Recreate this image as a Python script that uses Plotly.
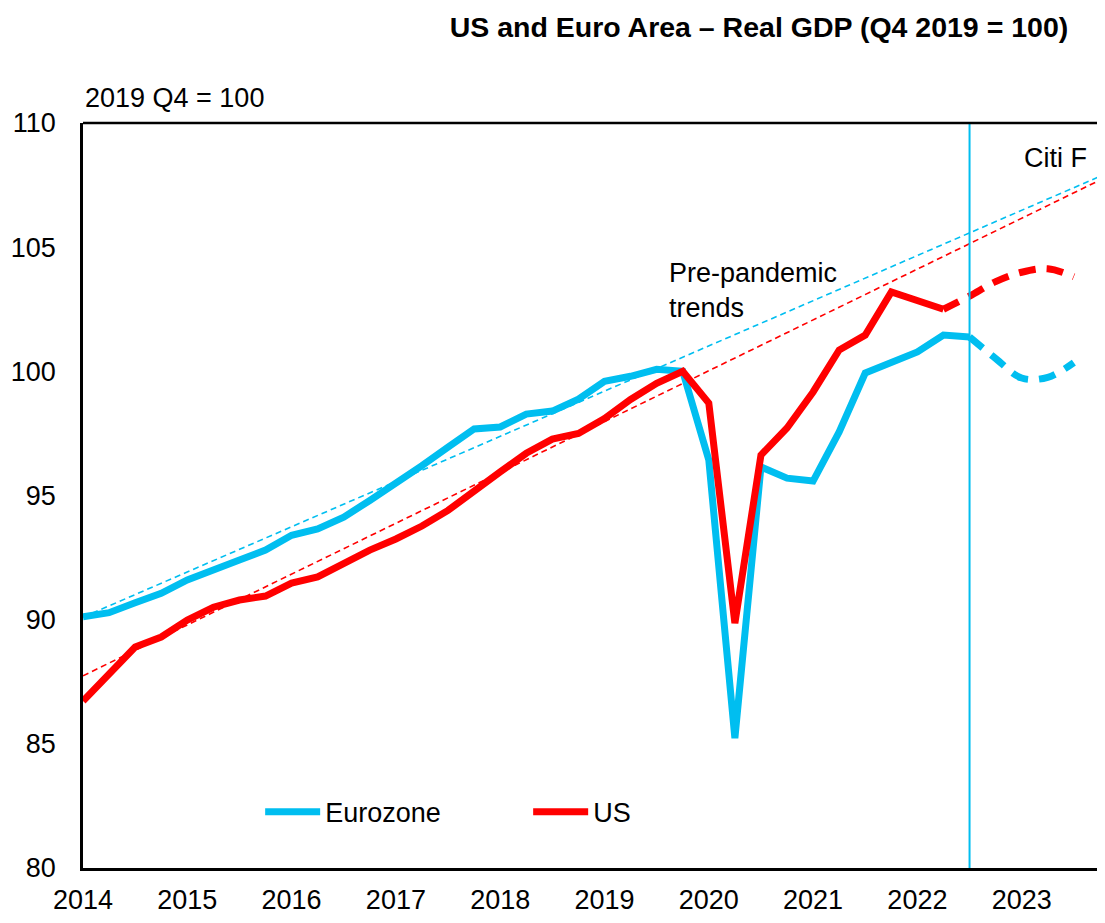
import plotly.graph_objects as go

# ---- data (quarterly, starting 2014 Q1) ----
start_year = 2014
eurozone = [90.12, 90.28, 90.68, 91.06, 91.6, 91.97, 92.4, 92.8,
            93.4, 93.65, 94.13, 94.8, 95.46, 96.2, 96.95, 97.68,
            97.76, 98.28, 98.4, 98.88, 99.6, 99.8, 100.08, 100.0,
            96.43, 85.23, 96.15, 95.7, 95.58, 97.56, 99.93, 100.33,
            100.78, 101.46, 101.38]
us = [86.72, 87.85, 88.9, 89.3, 89.98, 90.5, 90.79, 90.95,
      91.47, 91.72, 92.28, 92.8, 93.25, 93.77, 94.4, 95.2,
      95.95, 96.7, 97.27, 97.5, 98.1, 98.87, 99.52, 100.0,
      98.72, 89.86, 96.63, 97.72, 99.17, 100.86, 101.46, 103.2,
      102.87, 102.5]
# Citi forecasts (start at last actual quarter)
eurozone_fc_start = 34
eurozone_fc = [101.38, 100.52, 99.73, 99.76, 100.35]
us_fc_start = 33
us_fc = [102.5, 103.03, 103.61, 103.99, 104.13, 103.81]
# pre-pandemic trend lines: value at 2014 Q1 and at 2023 Q4
trend_quarters = [0, 39]
eurozone_trend = [90.1, 107.85]
us_trend = [87.74, 107.7]
forecast_line_year = 2022.5
year_ticks = list(range(2014, 2024))

BLUE = "#00BEF0"
RED = "#FF0000"
FONT = "Liberation Sans, Arial, sans-serif"
FS = 27


def qx(i):
    return start_year + i / 4.0


fig = go.Figure()

# trend lines
fig.add_trace(go.Scatter(x=[qx(q) for q in trend_quarters], y=eurozone_trend, mode="lines",
                         line=dict(color=BLUE, width=1.6, dash="6px,4px"), showlegend=False, hoverinfo="skip"))
fig.add_trace(go.Scatter(x=[qx(q) for q in trend_quarters], y=us_trend, mode="lines",
                         line=dict(color=RED, width=1.6, dash="6px,4px"), showlegend=False, hoverinfo="skip"))

# forecasts
fig.add_trace(go.Scatter(x=[qx(eurozone_fc_start + i) for i in range(len(eurozone_fc))], y=eurozone_fc,
                         mode="lines", line=dict(color=BLUE, width=7, dash="17px,11px", shape="spline"),
                         showlegend=False))
fig.add_trace(go.Scatter(x=[qx(us_fc_start + i) for i in range(len(us_fc))], y=us_fc,
                         mode="lines", line=dict(color=RED, width=7, dash="17px,11px", shape="spline"),
                         showlegend=False))

# actuals
fig.add_trace(go.Scatter(x=[qx(i) for i in range(len(eurozone))], y=eurozone, mode="lines",
                         name="Eurozone", line=dict(color=BLUE, width=7)))
fig.add_trace(go.Scatter(x=[qx(i) for i in range(len(us))], y=us, mode="lines",
                         name="US", line=dict(color=RED, width=7)))

fig.add_shape(type="line", xref="x", yref="paper", x0=forecast_line_year, x1=forecast_line_year,
              y0=0, y1=1, line=dict(color=BLUE, width=2))
fig.add_shape(type="line", xref="paper", yref="paper", x0=0, x1=1, y0=1, y1=1,
              line=dict(color="black", width=2.5))

# page body adds an 8px offset; figure coordinates are compensated
W, H = 1105, 923
fig.update_layout(
    width=W, height=H,
    margin=dict(l=75, r=0, t=115, b=63),
    paper_bgcolor="white", plot_bgcolor="white",
    font=dict(family=FONT, size=FS, color="black"),
    title=dict(text="<b>US and Euro Area – Real GDP (Q4 2019 = 100)</b>",
               x=1057 / W, xanchor="right", xref="paper", y=1 - 19 / H, yanchor="middle",
               font=dict(family=FONT, size=28.5, color="black")),
    legend=dict(orientation="h", x=0.172, y=0.075, xanchor="left", yanchor="middle",
                bgcolor="rgba(0,0,0,0)", font=dict(size=FS), entrywidth=198, entrywidthmode="pixels",
                itemwidth=55, tracegroupgap=0),
    showlegend=True,
    annotations=[
        dict(text="2019 Q4 = 100", x=0, y=1, xref="paper", yref="paper", xanchor="left", yanchor="bottom",
             yshift=8, showarrow=False, font=dict(size=FS)),
        dict(text="Pre-pandemic<br>trends", x=2019.6, y=103.25, xref="x", yref="y", xanchor="left",
             yanchor="middle", align="left", showarrow=False, font=dict(size=FS)),
        dict(text="Citi F", x=2023.0, y=108.6, xref="x", yref="y", xanchor="left", yanchor="middle",
             showarrow=False, font=dict(size=FS)),
    ],
)
fig.update_xaxes(range=[2014, 2014 + 1030 / 104.3], tickvals=year_ticks, ticktext=[str(y) for y in year_ticks],
                 showgrid=False, zeroline=False, showline=True, linecolor="black", linewidth=3,
                 ticks="", ticklabelstandoff=6)
fig.update_yaxes(range=[80, 110], tickvals=[80, 85, 90, 95, 100, 105, 110], showgrid=False, zeroline=False,
                 showline=True, linecolor="black", linewidth=2.5, ticks="", ticklabelstandoff=19)

fig.write_html("out.html")
